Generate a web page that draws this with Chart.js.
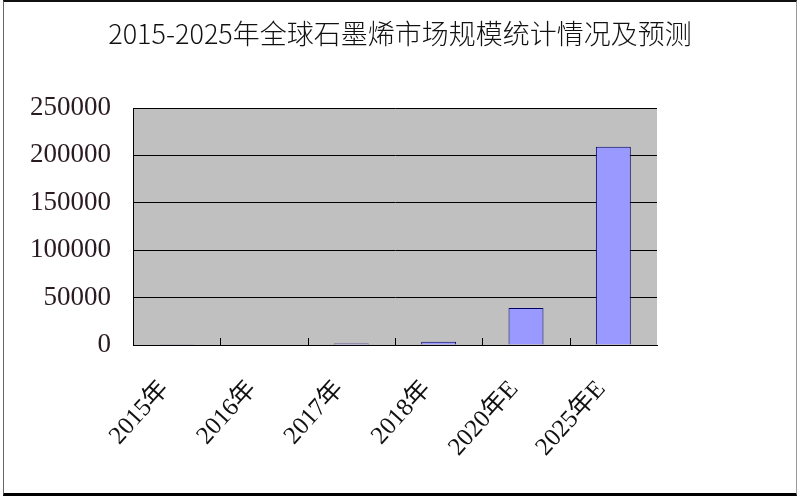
<!DOCTYPE html>
<html>
<head>
<meta charset="utf-8">
<script src="https://cdn.jsdelivr.net/npm/chart.js@4"></script>
<style>
  html, body { margin: 0; padding: 0; background: #fff; }
  #wrap { position: relative; width: 800px; height: 500px; }
  #frame { position: absolute; left: 3px; top: 0; right: 3px; bottom: 4px;
           border-top: 2px solid #111; border-left: 1px solid #666; border-right: 1px solid #999; border-bottom: 3px solid #000; pointer-events: none; }
</style>
</head>
<body>
<div id="wrap">
  <canvas id="c" width="800" height="500"></canvas>
  <div id="frame"></div>
</div>
<script>
// 数据
const chartTitle = '2015-2025年全球石墨烯市场规模统计情况及预测';
const categories = ['2015年', '2016年', '2017年', '2018年', '2020年E', '2025年E'];
const marketSize = [300, 500, 1500, 3500, 39000, 209000];
const yTicks = [0, 50000, 100000, 150000, 200000, 250000];

// 标题画在整幅画布中央
const titlePlugin = {
  id: 'titlePlugin',
  afterDraw(chart) {
    const g = chart.ctx;
    g.save();
    g.fillStyle = '#111';
    g.font = '300 27px "Noto Sans CJK SC"';
    g.textAlign = 'center';
    g.textBaseline = 'middle';
    g.fillText(chartTitle, chart.width / 2, 34);
    g.restore();
  }
};

// 分类之间的内向刻度线
const innerTicks = {
  id: 'innerTicks',
  afterDatasetsDraw(chart) {
    const x = chart.scales.x, area = chart.chartArea, g = chart.ctx;
    g.save();
    g.strokeStyle = '#000';
    g.lineWidth = 1;
    for (let i = 1; i < categories.length; i++) {
      const px = Math.round((x.getPixelForTick(i - 1) + x.getPixelForTick(i)) / 2) + 0.5;
      g.beginPath();
      g.moveTo(px, area.bottom);
      g.lineTo(px, area.bottom - 7);
      g.stroke();
    }
    g.restore();
  }
};

const plotBg = {
  id: 'plotBg',
  beforeDraw(chart) {
    const a = chart.chartArea, g = chart.ctx;
    g.save();
    g.fillStyle = '#c0c0c0';
    g.fillRect(a.left, a.top, a.right - a.left, a.bottom - a.top);
    g.restore();
  }
};

new Chart(document.getElementById('c'), {
  type: 'bar',
  data: {
    labels: categories,
    datasets: [{
      data: marketSize,
      backgroundColor: '#9999ff',
      borderColor: '#000060',
      borderWidth: 1,
      categoryPercentage: 1,
      barPercentage: 0.4
    }]
  },
  options: {
    responsive: false,
    animation: false,
    layout: { padding: { top: 108, right: 143, left: 0, bottom: 0 } },
    plugins: {
      legend: { display: false },
      tooltip: { enabled: false },
      title: { display: false }
    },
    scales: {
      x: {
        grid: { display: false },
        border: { color: '#000', width: 1 },
        ticks: {
          color: '#111',
          font: { family: '"Liberation Serif", "Noto Sans CJK SC"', size: 25 },
          minRotation: 48,
          maxRotation: 48,
          padding: 22,
          labelOffset: -12
        },
        afterFit(scale) { scale.height = 155; }
      },
      y: {
        min: 0,
        max: 250000,
        afterBuildTicks(scale) { scale.ticks = yTicks.map(v => ({ value: v })); },
        grid: { color: '#000', lineWidth: 1, drawTicks: false },
        border: { color: '#000', width: 1 },
        ticks: {
          color: '#2a1a22',
          font: { family: '"Liberation Serif"', size: 27 },
          padding: 22,
          callback: v => String(v)
        },
        afterFit(scale) { scale.width = 133; }
      }
    }
  },
  plugins: [plotBg, innerTicks, titlePlugin]
});
</script>
</body>
</html>
